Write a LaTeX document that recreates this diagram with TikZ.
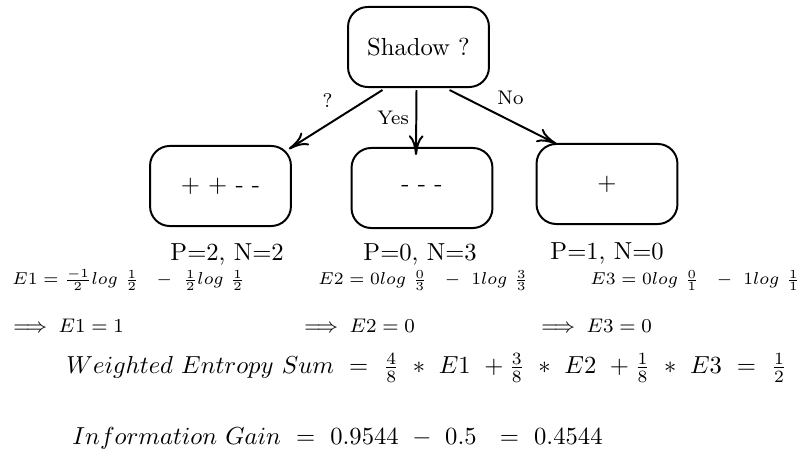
\documentclass[tikz,border=0pt]{standalone}
\usepackage{amsmath}
\usetikzlibrary{arrows.meta,calc}
\begin{document}
\begin{tikzpicture}[x=0.406pt,y=-0.406pt,
  box/.style={draw, line width=0.8pt, rounded corners=8pt, minimum width=57.2pt, minimum height=32.5pt, inner sep=0pt},
  arr/.style={line width=0.8pt, -{Computer Modern Rightarrow[length=8pt,width=6pt]}},
  elab/.style={font=\footnotesize, inner sep=0pt},
  txt/.style={anchor=base west, inner sep=0pt},
  ent/.style={anchor=base west, inner sep=0pt, font=\scriptsize}]
\useasboundingbox (0,0) rectangle (799,455);
\node[box] (root) at (418.5,47) {Shadow ?};
\node[box] (left) at (220.5,186) {+ + - -};
\node[box] (mid) at (422,188) {- - -};
\node[box] (right) at (607,184) {+};
\draw[arr] ($(root.south)+(-36,2)$) -- ($(left.north east)+(-3,4)$);
\draw[arr] ($(root.south)+(-2,2)$) -- ($(mid.north)+(-6,8)$);
\draw[arr] ($(root.south)+(31,2)$) -- ($(right.north west)+(21,1)$);
\node[elab] (lq) at (327.5,101) {?};
\node[elab] (ly) at (393,118) {Yes};
\node[elab] (ln) at (510.5,98) {No};
\node[txt] (p1) at (170,261) {P=2, N=2};
\node[txt] (p2) at (363,261) {P=0, N=3};
\node[txt] (p3) at (550,260) {P=1, N=0};
\node[ent] (e1) at (12,285) {$E1 = \frac{-1}{2}log\ \frac{1}{2}\ \ -\ \frac{1}{2}log\ \frac{1}{2}$};
\node[ent] (e2) at (318,285) {$E2 = 0log\ \frac{0}{3}\ \ -\ 1log\ \frac{3}{3}$};
\node[ent] (e3) at (590,285) {$E3 = 0log\ \frac{0}{1}\ \ -\ 1log\ \frac{1}{1}$};
\node[txt,font=\footnotesize] (r1) at (7,333) {$\implies E1 = 1$};
\node[txt,font=\footnotesize] (r2) at (298,333) {$\implies E2 = 0$};
\node[txt,font=\footnotesize] (r3) at (535,333) {$\implies E3 = 0$};
\node[txt] (ws) at (66,374) {$Weighted\ Entropy\ Sum\ =\ \frac{4}{8}\ *\ E1\ +\frac{3}{8}\ *\ E2\ +\frac{1}{8}\ *\ E3\ =\ \frac{1}{2}$};
\node[txt] (ig) at (72,445) {$Information\ Gain\ =\ 0.9544\ -\ 0.5\ \ =\ 0.4544$};
\end{tikzpicture}
\end{document}
